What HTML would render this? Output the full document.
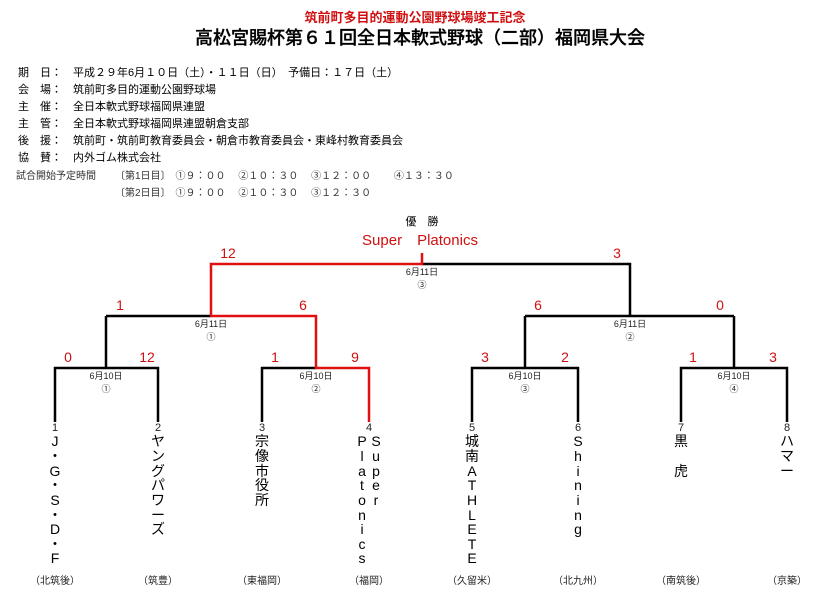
<!DOCTYPE html>
<html><head><meta charset="utf-8"><style>
body{margin:0;background:#fff;width:830px;height:603px;overflow:hidden}
text{font-family:"Liberation Sans","Noto Sans CJK JP",sans-serif}
</style></head><body>
<svg width="830" height="603" xmlns="http://www.w3.org/2000/svg">
<text x="415" y="22" font-size="13" fill="#d01010" text-anchor="middle" font-weight="bold">筑前町多目的運動公園野球場竣工記念</text>
<text x="420" y="44" font-size="18" fill="#000" text-anchor="middle" font-weight="500" stroke="#000" stroke-width="0.3">高松宮賜杯第６１回全日本軟式野球（二部）福岡県大会</text>
<g font-size="11" fill="#000">
<text x="18" y="76">期　日：　平成２９年6月１０日（土）・１１日（日）　予備日：１７日（土）</text>
<text x="18" y="93">会　場：　筑前町多目的運動公園野球場</text>
<text x="18" y="110">主　催：　全日本軟式野球福岡県連盟</text>
<text x="18" y="127">主　管：　全日本軟式野球福岡県連盟朝倉支部</text>
<text x="18" y="144">後　援：　筑前町・筑前町教育委員会・朝倉市教育委員会・東峰村教育委員会</text>
<text x="18" y="161">協　賛：　内外ゴム株式会社</text>
</g>
<g font-size="10" fill="#333">
<text x="16" y="179">試合開始予定時間</text>
<text x="115" y="179">〔第1日目〕　①９：００　 ②１０：３０　 ③１２：００　　 ④１３：３０</text>
<text x="115" y="196">〔第2日目〕　①９：００　 ②１０：３０　 ③１２：３０</text>
</g>
<text x="422" y="225" font-size="11" text-anchor="middle">優　勝</text>
<text x="420" y="245" font-size="15" fill="#d01010" text-anchor="middle">Super　Platonics</text>
<g stroke="#000" stroke-width="2.5" fill="none">
<path d="M422 264H630V316"/>
<path d="M106 316H211M55 422V368H158V422M106 368V316"/>
<path d="M262 422V368H316"/>
<path d="M525 316H734M472 422V368H578V422M525 368V316M681 422V368H787V422M734 368V316"/>
</g>
<g stroke="#e01010" stroke-width="2.5" fill="none">
<path d="M422 253V264H211V316H316V368H369V422"/>
</g>
<g font-size="14" fill="#d01010" text-anchor="middle">
<text x="228" y="258">12</text><text x="617" y="258">3</text>
<text x="120" y="310">1</text><text x="303" y="310">6</text><text x="538" y="310">6</text><text x="720" y="310">0</text>
<text x="68" y="362">0</text><text x="147" y="362">12</text><text x="275" y="362">1</text><text x="355" y="362">9</text>
<text x="485" y="362">3</text><text x="565" y="362">2</text><text x="693" y="362">1</text><text x="773" y="362">3</text>
</g>
<g font-size="9" fill="#222" text-anchor="middle">
<text x="422" y="275">6月11日</text><text x="422" y="288">③</text>
<text x="211" y="327">6月11日</text><text x="211" y="340">①</text>
<text x="630" y="327">6月11日</text><text x="630" y="340">②</text>
<text x="106" y="379">6月10日</text><text x="106" y="392">①</text>
<text x="316" y="379">6月10日</text><text x="316" y="392">②</text>
<text x="525" y="379">6月10日</text><text x="525" y="392">③</text>
<text x="734" y="379">6月10日</text><text x="734" y="392">④</text>
</g>
<g font-size="11" fill="#222" text-anchor="middle">
<text x="55" y="431">1</text><text x="158" y="431">2</text><text x="262" y="431">3</text><text x="369" y="431">4</text>
<text x="472" y="431">5</text><text x="578" y="431">6</text><text x="681" y="431">7</text><text x="787" y="431">8</text>
</g>
<g font-size="14" fill="#000" text-anchor="middle">
<text x="55" y="446">J</text><text x="55" y="461">・</text><text x="55" y="476">G</text><text x="55" y="490">・</text><text x="55" y="505">S</text><text x="55" y="520">・</text><text x="55" y="534">D</text><text x="55" y="549">・</text><text x="55" y="563">F</text>
<text x="158" y="446">ヤ</text><text x="158" y="461">ン</text><text x="158" y="476">グ</text><text x="158" y="490">パ</text><text x="158" y="505">ワ</text><text x="158" y="520">ー</text><text x="158" y="534">ズ</text>
<text x="262" y="446">宗</text><text x="262" y="461">像</text><text x="262" y="476">市</text><text x="262" y="490">役</text><text x="262" y="505">所</text>
<text x="362" y="446">P</text><text x="362" y="461">l</text><text x="362" y="476">a</text><text x="362" y="490">t</text><text x="362" y="505">o</text><text x="362" y="520">n</text><text x="362" y="534">i</text><text x="362" y="549">c</text><text x="362" y="563">s</text>
<text x="376" y="446">S</text><text x="376" y="461">u</text><text x="376" y="476">p</text><text x="376" y="490">e</text><text x="376" y="505">r</text>
<text x="472" y="446">城</text><text x="472" y="461">南</text><text x="472" y="476">A</text><text x="472" y="490">T</text><text x="472" y="505">H</text><text x="472" y="520">L</text><text x="472" y="534">E</text><text x="472" y="549">T</text><text x="472" y="563">E</text>
<text x="578" y="446">S</text><text x="578" y="461">h</text><text x="578" y="476">i</text><text x="578" y="490">n</text><text x="578" y="505">i</text><text x="578" y="520">n</text><text x="578" y="534">g</text>
<text x="681" y="446">黒</text><text x="681" y="476">虎</text>
<text x="787" y="446">ハ</text><text x="787" y="461">マ</text><text x="787" y="476">ー</text>
</g>
<g font-size="10" fill="#222" text-anchor="middle">
<text x="55" y="584">（北筑後）</text><text x="158" y="584">（筑豊）</text><text x="262" y="584">（東福岡）</text><text x="369" y="584">（福岡）</text>
<text x="472" y="584">（久留米）</text><text x="578" y="584">（北九州）</text><text x="681" y="584">（南筑後）</text><text x="787" y="584">（京築）</text>
</g>
</svg>
</body></html>
